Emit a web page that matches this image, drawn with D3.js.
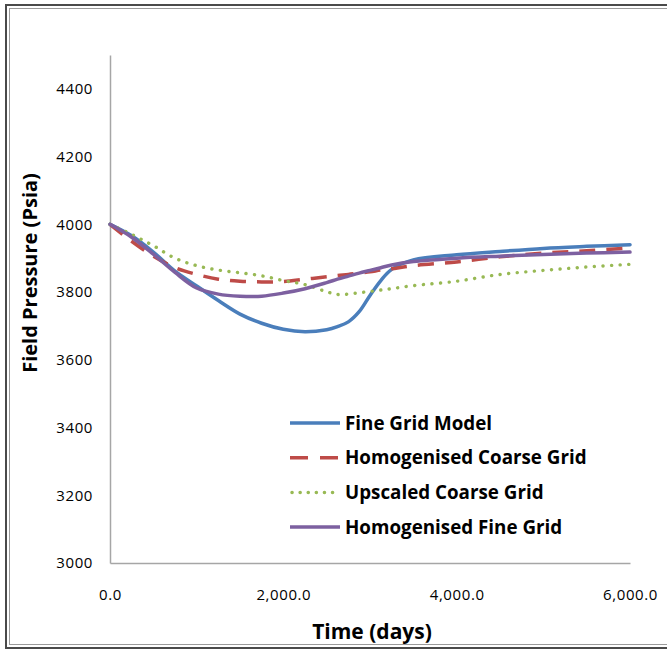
<!DOCTYPE html>
<html>
<head>
<meta charset="utf-8">
<script src="https://cdn.jsdelivr.net/npm/d3@7"></script>
<style>
  html, body { margin: 0; padding: 0; background: #fff; }
  svg { display: block; }
  text { font-family: "Open Sans", "Liberation Sans", sans-serif; fill: #000; }
</style>
</head>
<body>
<svg id="chart" width="667" height="651"></svg>
<script>
// Simulation output: field pressure (psia) against time (days)
const days = [0, 250, 500, 750, 1000, 1250, 1500, 1750, 2000, 2250, 2500, 2625, 2750, 2875, 3000, 3125, 3250, 3500, 4000, 4500, 5000, 5500, 6000];
const fineGridModel = [4000, 3966, 3918, 3862, 3818, 3775, 3735, 3708, 3690, 3683, 3689, 3698, 3712, 3742, 3790, 3834, 3867, 3895, 3910, 3920, 3929, 3935, 3940];
const homogenisedCoarse = [4000, 3950, 3906, 3872, 3852, 3838, 3832, 3830, 3831, 3838, 3845, 3849, 3852, 3856, 3860, 3865, 3869, 3878, 3889, 3904, 3915, 3922, 3930];
const upscaledCoarse = [4000, 3970, 3937, 3900, 3878, 3865, 3857, 3848, 3834, 3822, 3801, 3793, 3794, 3798, 3802, 3806, 3810, 3819, 3832, 3852, 3864, 3874, 3882];
const homogenisedFine = [4000, 3962, 3912, 3858, 3812, 3794, 3788, 3788, 3797, 3810, 3828, 3838, 3847, 3856, 3864, 3872, 3880, 3890, 3900, 3906, 3911, 3915, 3918];

const seriesNames = ["Fine Grid Model", "Homogenised Coarse Grid", "Upscaled Coarse Grid", "Homogenised Fine Grid"];
const seriesValues = [fineGridModel, homogenisedCoarse, upscaledCoarse, homogenisedFine];
const yTicks = [3000, 3200, 3400, 3600, 3800, 4000, 4200, 4400];
const xTicks = [0, 2000, 4000, 6000];

const styles = [
  { color: "#4A7EBB", dash: null, cap: "round" },
  { color: "#BE4B48", dash: "16,11", cap: "butt" },
  { color: "#98B954", dash: "0.1,8.5", cap: "round" },
  { color: "#7D60A0", dash: null, cap: "round" }
];

const svg = d3.select("#chart");

// outer chart frame (double border)
svg.append("rect").attr("x", 6).attr("y", 5).attr("width", 670).attr("height", 643)
  .attr("fill", "none").attr("stroke", "#4a4a4a").attr("stroke-width", 2);
svg.append("rect").attr("x", 9.5).attr("y", 8.5).attr("width", 670).attr("height", 636)
  .attr("fill", "none").attr("stroke", "#9a9a9a").attr("stroke-width", 1);

const x = d3.scaleLinear().domain([0, 6000]).range([110, 630]);
const y = d3.scaleLinear().domain([3000, 4500]).range([563, 55]);

// axes
const xAxis = svg.append("g").attr("transform", `translate(0,${y(3000)})`)
  .call(d3.axisBottom(x).tickValues(xTicks).tickFormat(d3.format(",.1f")).tickSize(0).tickPadding(26));
const yAxis = svg.append("g").attr("transform", `translate(${x(0)},0)`)
  .call(d3.axisLeft(y).tickValues(yTicks).tickFormat(d3.format("d")).tickSize(0).tickPadding(17));

[xAxis, yAxis].forEach(g => {
  g.select(".domain").attr("stroke", "#a6a6a6").attr("stroke-width", 1.5);
  g.selectAll("text").style("font-size", "15px").style("letter-spacing", "0.6px")
    .style("font-family", "'Open Sans', sans-serif").attr("fill", "#000");
});

// series lines
const line = d3.line().x((d, i) => x(days[i])).y(d => y(d)).curve(d3.curveCatmullRom.alpha(0.5));
seriesValues.forEach((vals, k) => {
  const s = styles[k];
  svg.append("path").datum(vals)
    .attr("d", line)
    .attr("fill", "none")
    .attr("stroke", s.color)
    .attr("stroke-width", k === 2 ? 3.4 : 3.5)
    .attr("stroke-linecap", s.cap)
    .attr("stroke-linejoin", "round")
    .attr("stroke-dasharray", s.dash);
});

// axis titles
svg.append("text").attr("x", 372).attr("y", 639).attr("text-anchor", "middle")
  .style("font-size", "21px").style("font-weight", "bold").text("Time (days)");
svg.append("text").attr("transform", "translate(37,273) rotate(-90)").attr("text-anchor", "middle")
  .style("font-size", "20px").style("font-weight", "bold").text("Field Pressure (Psia)");

// legend
const legend = svg.append("g");
seriesNames.forEach((name, k) => {
  const s = styles[k];
  const ly = 423 + k * 34.7;
  legend.append("line").attr("x1", k === 2 ? 292 : 290).attr("x2", 340).attr("y1", ly).attr("y2", ly)
    .attr("stroke", s.color).attr("stroke-width", 3.5)
    .attr("stroke-linecap", k === 2 ? "round" : "butt")
    .attr("stroke-dasharray", k === 1 ? "18,12" : (k === 2 ? "0.1,8" : null));
  legend.append("text").attr("x", 345).attr("y", ly + 6.5)
    .style("font-size", "18.8px").style("font-weight", "bold").text(name);
});
</script>
</body>
</html>
